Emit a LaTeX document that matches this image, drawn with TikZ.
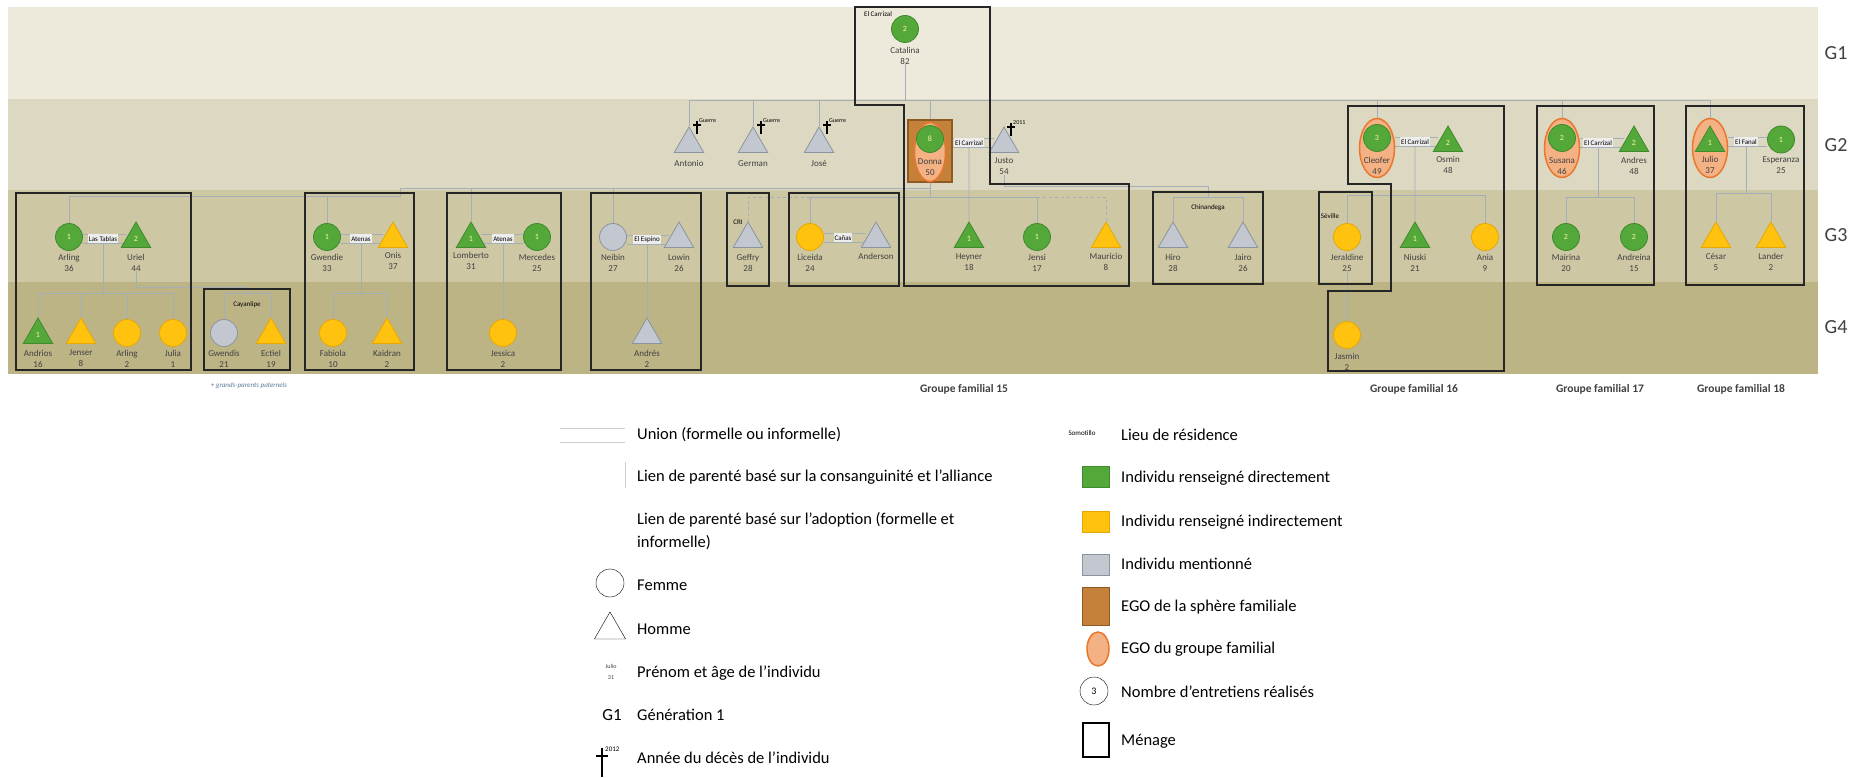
\documentclass[tikz,border=0pt]{standalone}
\usepackage{fontspec}
\setmainfont{Carlito}
\usetikzlibrary{shapes.geometric,backgrounds}

\definecolor{bandA}{HTML}{EEEADB}
\definecolor{bandB}{HTML}{DDD8C1}
\definecolor{bandC}{HTML}{CEC7A4}
\definecolor{bandD}{HTML}{BDB486}
\definecolor{vert}{HTML}{54A83A}
\definecolor{vertf}{HTML}{3E8A2C}
\definecolor{jaune}{HTML}{FFC20E}
\definecolor{jaunef}{HTML}{E6A800}
\definecolor{gris}{HTML}{C3C8D0}
\definecolor{grisf}{HTML}{8A949E}
\definecolor{saumon}{HTML}{F4B183}
\definecolor{orangef}{HTML}{E9772E}
\definecolor{brun}{HTML}{C58139}
\definecolor{brunf}{HTML}{8E5A22}
\definecolor{lien}{HTML}{A3AEB6}
\definecolor{cadre}{HTML}{262626}
\definecolor{texte}{HTML}{404040}
\definecolor{etiq}{HTML}{EDEDED}
\definecolor{chiffre}{HTML}{FFF2A8}
\definecolor{note}{HTML}{5B7A9A}

% croix du deces
\newcommand{\croix}[3]{%
  \draw[line width=1.5pt] (#1,#2-6) -- (#1,#2+7);
  \draw[line width=1.5pt] (#1-4,#2-2) -- (#1+4,#2-2);
  \node[anchor=south west, font=\fontsize{6}{6}\selectfont, inner sep=0pt] at (#1+2,#2-4) {#3};}

\begin{document}
\begin{tikzpicture}[x=1pt, y=-1pt, every node/.style={font=\fontsize{9}{11}\selectfont},
  fem/.style={circle, line width=0.8pt, minimum size=27pt, inner sep=0pt, font=\fontsize{8}{8}\selectfont, text=chiffre},
  hom/.style={regular polygon, regular polygon sides=3, line width=0.8pt, minimum size=34pt, inner sep=0pt, font=\fontsize{8}{8}\selectfont, text=chiffre},
  dir/.style={fill=vert, draw=vertf},
  ind/.style={fill=jaune, draw=jaunef},
  men/.style={fill=gris, draw=grisf},
  nom/.style={align=center, text=texte, inner sep=0pt},
  egoG/.style={ellipse, fill=saumon, draw=orangef, line width=1.5pt, minimum width=35pt, minimum height=59pt, inner sep=0pt},
  egoS/.style={rectangle, fill=brun, draw=brunf, line width=1.5pt, minimum width=44pt, minimum height=62pt},
  menage/.style={draw=cadre, line width=1.3pt},
  kin/.style={draw=lien, line width=0.8pt},
  adopt/.style={kin, dashed},
  union/.style={draw=lien, line width=0.8pt},
  lieu/.style={fill=etiq, font=\fontsize{7}{7}\selectfont, inner sep=1pt, minimum height=9pt},
  res/.style={font=\fontsize{7}{7}\selectfont, inner sep=0pt},
  gen/.style={font=\fontsize{20}{20}\selectfont, text=texte},
  groupe/.style={font=\bfseries\fontsize{11.5}{12}\selectfont, text=texte},
  leg/.style={anchor=west, font=\fontsize{16.5}{23}\selectfont, align=left, inner sep=0pt}]

\useasboundingbox (0,0) rectangle (1861,778);
\begin{pgfonlayer}{background}
\fill[white] (0,0) rectangle (1861,778);
% generations
\fill[bandA] (8,7) rectangle (1818,99);
\fill[bandB] (8,99) rectangle (1818,190);
\fill[bandC] (8,190) rectangle (1818,282);
\fill[bandD] (8,282) rectangle (1818,374);
\end{pgfonlayer}

\node[gen] (g1) at (1836,53) {G1};
\node[gen] (g2) at (1836,145) {G2};
\node[gen] (g3) at (1836,235) {G3};
\node[gen] (g4) at (1836,327) {G4};

% G1
\node[fem,dir] (catalina) at (905,29) {2};
\node[nom] (catalinaL) at (905,55.5) {Catalina\\82};

% G2
\node[hom,men] (antonio) at (689,144) {};
\node[nom] (antonioL) at (689,163) {Antonio};
\node[hom,men] (german) at (753,144) {};
\node[nom] (germanL) at (753,164) {German};
\node[hom,men] (jose) at (819,144) {};
\node[nom] (joseL) at (819,163) {José};
\node[egoS] (donnaBox) at (930,151) {};
\node[egoG, minimum width=31pt] (donna) at (930,152) {};
\node[fem,dir] (donnaC) at (930,139) {8};
\node[nom] (donnaL) at (930,167) {Donna\\50};
\node[hom,men] (justo) at (1004,144) {};
\node[nom] (justoL) at (1004,166.5) {Justo\\54};
\node[egoG] (cleofer) at (1377,148) {};
\node[fem,dir] (cleoferC) at (1377,138) {3};
\node[nom] (cleoferL) at (1377,166) {Cleofer\\49};
\node[hom,dir] (osmin) at (1448,143) {2};
\node[nom] (osminL) at (1448,165) {Osmin\\48};
\node[egoG] (susana) at (1562,148) {};
\node[fem,dir] (susanaC) at (1562,138) {2};
\node[nom] (susanaL) at (1562,166) {Susana\\46};
\node[hom,dir] (andres) at (1634,143) {2};
\node[nom] (andresL) at (1634,166) {Andres\\48};
\node[egoG] (julio) at (1710,148) {};
\node[hom,dir] (julioT) at (1710,143) {1};
\node[nom] (julioL) at (1710,165) {Julio\\37};
\node[fem,dir] (esperanza) at (1781,139.5) {1};
\node[nom] (esperanzaL) at (1781,165.5) {Esperanza\\25};

% G3
\node[fem,dir] (arlingA) at (69,237) {1};
\node[nom] (arlingAL) at (69,262.5) {Arling\\36};
\node[hom,dir] (uriel) at (136,239) {2};
\node[nom] (urielL) at (136,262.5) {Uriel\\44};
\node[fem,dir] (gwendie) at (327,237) {1};
\node[nom] (gwendieL) at (327,262.5) {Gwendie\\33};
\node[hom,ind] (onis) at (393,239) {};
\node[nom] (onisL) at (393,260.5) {Onis\\37};
\node[hom,dir] (lomberto) at (471,239) {1};
\node[nom] (lombertoL) at (471,260.5) {Lomberto\\31};
\node[fem,dir] (mercedes) at (537,237) {1};
\node[nom] (mercedesL) at (537,262.5) {Mercedes\\25};
\node[fem,men] (neibin) at (613,237) {};
\node[nom] (neibinL) at (613,262.5) {Neibin\\27};
\node[hom,men] (lowin) at (679,239) {};
\node[nom] (lowinL) at (679,262.5) {Lowin\\26};
\node[hom,men] (geffry) at (748,239) {};
\node[nom] (geffryL) at (748,262.5) {Geffry\\28};
\node[fem,ind] (liceida) at (810,237) {};
\node[nom] (liceidaL) at (810,262.5) {Liceida\\24};
\node[hom,men] (anderson) at (876,239) {};
\node[nom] (andersonL) at (876,256) {Anderson};
\node[hom,dir] (heyner) at (969,239) {1};
\node[nom] (heynerL) at (969,262.5) {Heyner\\18};
\node[fem,dir] (jensi) at (1037,237) {1};
\node[nom] (jensiL) at (1037,262.5) {Jensi\\17};
\node[hom,ind] (mauricio) at (1106,239) {};
\node[nom] (mauricioL) at (1106,261.5) {Mauricio\\8};
\node[hom,men] (hiro) at (1173,239) {};
\node[nom] (hiroL) at (1173,262.5) {Hiro\\28};
\node[hom,men] (jairo) at (1243,239) {};
\node[nom] (jairoL) at (1243,262.5) {Jairo\\26};
\node[fem,ind] (jeraldine) at (1347,237) {};
\node[nom] (jeraldineL) at (1347,262.5) {Jeraldine\\25};
\node[hom,dir] (niuski) at (1415,239) {1};
\node[nom] (niuskiL) at (1415,262.5) {Niuski\\21};
\node[fem,ind] (ania) at (1485,237) {};
\node[nom] (aniaL) at (1485,262.5) {Ania\\9};
\node[fem,dir] (mairina) at (1566,237) {2};
\node[nom] (mairinaL) at (1566,262.5) {Mairina\\20};
\node[fem,dir] (andreina) at (1634,237) {2};
\node[nom] (andreinaL) at (1634,262.5) {Andreina\\15};
\node[hom,ind] (cesar) at (1716,239) {};
\node[nom] (cesarL) at (1716,261.5) {César\\5};
\node[hom,ind] (lander) at (1771,239) {};
\node[nom] (landerL) at (1771,261.5) {Lander\\2};

% G4
\node[hom,dir] (andrios) at (38,335) {1};
\node[nom] (andriosL) at (38,358.5) {Andrios\\16};
\node[hom,ind] (jenser) at (81,335) {};
\node[nom] (jenserL) at (81,358.5) {Jenser\\8};
\node[fem,ind] (arlingB) at (127,333) {};
\node[nom] (arlingBL) at (127,358.5) {Arling\\2};
\node[fem,ind] (julia) at (173,333) {};
\node[nom] (juliaL) at (173,358.5) {Julia\\1};
\node[fem,men] (gwendis) at (224,333) {};
\node[nom] (gwendisL) at (224,358.5) {Gwendis\\21};
\node[hom,ind] (ectiel) at (271,335) {};
\node[nom] (ectielL) at (271,358.5) {Ectiel\\19};
\node[fem,ind] (fabiola) at (333,333) {};
\node[nom] (fabiolaL) at (333,358.5) {Fabiola\\10};
\node[hom,ind] (kaidran) at (387,335) {};
\node[nom] (kaidranL) at (387,358.5) {Kaidran\\2};
\node[fem,ind] (jessica) at (503,333) {};
\node[nom] (jessicaL) at (503,358.5) {Jessica\\2};
\node[hom,men] (andres2) at (647,335) {};
\node[nom] (andres2L) at (647,358.5) {Andrés\\2};
\node[fem,ind] (jasmin) at (1347,335) {};
\node[nom] (jasminL) at (1347,361.5) {Jasmin\\2};

% unions
\node[lieu] (uTablas) at (103,239) {Las Tablas};
\node[lieu] (uAtenasA) at (361,239) {Atenas};
\node[lieu] (uAtenasB) at (503,239) {Atenas};
\node[lieu] (uEspino) at (647,240) {El Espino};
\node[lieu] (uCanas) at (843,238) {Cañas};
\node[lieu] (uDonna) at (969,143) {El Carrizal};
\node[lieu] (uCleofer) at (1415,142) {El Carrizal};
\node[lieu] (uSusana) at (1598,143) {El Carrizal};
\node[lieu] (uJulio) at (1746,142) {El Fanal};

% lieux de residence
\node[res] (lieuGF15) at (878,14) {El Carrizal};
\node[res] (lieuCri) at (738,222) {CRI};
\node[res] (lieuChin) at (1208,208) {Chinandega};
\node[res] (lieuSev) at (1330,216) {Séville};
\node[res] (lieuCay) at (247,305) {Cayanlipe};

\croix{697}{127}{Guerre}
\croix{761}{127}{Guerre}
\croix{827}{127}{Guerre}
\croix{1011}{129}{2011}

\begin{pgfonlayer}{background}
% liens d'union
\foreach \a/\u/\b in {arlingA/uTablas/uriel, gwendie/uAtenasA/onis, lomberto/uAtenasB/mercedes, neibin/uEspino/lowin, liceida/uCanas/anderson, donnaBox/uDonna/justo, cleofer/uCleofer/osmin, susana/uSusana/andres, julio/uJulio/esperanza}{
  \draw[union] ([yshift=4.5pt]\a.east |- \u) -- ([yshift=4.5pt]\b.west |- \u);
  \draw[union] ([yshift=-4.5pt]\a.east |- \u) -- ([yshift=-4.5pt]\b.west |- \u);}

% liens de parente
\coordinate (top) at (905,100);
\draw[kin] (catalinaL.south) -- (top);
\foreach \e in {antonio,german,jose,donnaBox,cleofer,susana,julio}
  \draw[kin] (top) -| (\e.north);

\coordinate (dbar) at (930,188);
\coordinate (dstep) at (400,196);
\draw[kin] (donnaBox.south) -- (dbar) -| (neibin.north);
\draw[kin] (dbar) -| (lomberto.north);
\draw[kin] (dbar) -| (dstep) -| (arlingA.north);
\draw[kin] (dstep) -| (gwendie.north);

\coordinate (abar) at (930,197);
\draw[kin] (dbar) -- (abar);
\draw[kin] (abar) -| (liceida.north);
\draw[kin] (abar) -| (jensi.north);
\draw[adopt] (liceida |- abar) -| (geffry.north);
\draw[adopt] (jensi |- abar) -| (mauricio.north);
\draw[kin] (uDonna) -- (heyner.north);

\coordinate (jbar) at (1208,186);
\coordinate (hbar) at (1208,197);
\draw[kin] (justoL.south) |- (jbar) -- (hbar);
\draw[kin] (hbar) -| (hiro.north);
\draw[kin] (hbar) -| (jairo.north);

\coordinate (tbar) at (103,293);
\draw[kin] (uTablas) -- (tbar);
\foreach \e in {andrios,jenser,arlingB,julia}
  \draw[kin] (tbar) -| (\e.north);

\coordinate (cbar) at (247,293);
\draw[kin] (urielL.south) |- (247,287) -- (cbar);
\draw[kin] (cbar) -| (gwendis.north);
\draw[kin] (cbar) -| (ectiel.north);

\coordinate (atbar) at (361,293);
\draw[kin] (uAtenasA) -- (atbar);
\draw[kin] (atbar) -| (fabiola.north);
\draw[kin] (atbar) -| (kaidran.north);
\draw[kin] (uAtenasB) -- (jessica.north);
\draw[kin] (uEspino) -- (andres2.north);

\coordinate (nbar) at (1415,195);
\draw[kin] (uCleofer) -- (niuski.north);
\draw[kin] (nbar) -| (jeraldine.north);
\draw[kin] (nbar) -| (ania.north);
\draw[kin] (jeraldineL.south) -- (jasmin.north);

\coordinate (sbar) at (1598,197);
\draw[kin] (uSusana) -- (sbar);
\draw[kin] (sbar) -| (mairina.north);
\draw[kin] (sbar) -| (andreina.north);

\coordinate (jubar) at (1746,193);
\draw[kin] (uJulio) -- (jubar);
\draw[kin] (jubar) -| (cesar.north);
\draw[kin] (jubar) -| (lander.north);
\end{pgfonlayer}

% menages
\draw[menage] (16,193) rectangle (191,370);
\draw[menage] (204,289) rectangle (290,370);
\draw[menage] (305,193) rectangle (414,370);
\draw[menage] (447,193) rectangle (561,370);
\draw[menage] (591,193) rectangle (701,370);
\draw[menage] (727,193) rectangle (769,286);
\draw[menage] (789,193) rectangle (899,286);
\draw[menage] (855,7) -- (990,7) -- (990,184) -- (1129,184) -- (1129,286) -- (904,286) -- (904,105) -- (855,105) -- cycle;
\draw[menage] (1153,192) rectangle (1263,284);
\draw[menage] (1319,192) rectangle (1372,284);
\draw[menage] (1348,106) -- (1504,106) -- (1504,371) -- (1328,371) -- (1328,291) -- (1391,291) -- (1391,184) -- (1348,184) -- cycle;
\draw[menage] (1537,106) rectangle (1654,285);
\draw[menage] (1686,106) rectangle (1804,285);

\node[groupe] (gf15) at (964,389) {Groupe familial 15};
\node[groupe] (gf16) at (1414,389) {Groupe familial 16};
\node[groupe] (gf17) at (1600,389) {Groupe familial 17};
\node[groupe] (gf18) at (1741,389) {Groupe familial 18};
\node[font=\itshape\fontsize{7}{7}\selectfont, text=note] (gpp) at (249,386) {+ grands-parents paternels};

% legende
\draw[union, draw=lien!60] (560,428) -- (625,428);
\draw[union, draw=lien!60] (560,442) -- (625,442);
\draw[kin, draw=lien!60] (625,462) -- (625,488);
\node[circle, draw, minimum size=28pt, inner sep=0pt] (legF) at (610,583) {};
\node[regular polygon, regular polygon sides=3, draw, minimum size=36pt, inner sep=0pt] (legH) at (610,630) {};
\node[font=\fontsize{6}{11}\selectfont, align=center, text=texte, inner sep=0pt] (legN) at (611,672) {Julio\\31};
\node[font=\fontsize{17}{17}\selectfont, inner sep=0pt] (legG) at (612,715) {G1};
\draw[line width=1.6pt] (602,748) -- (602,777);
\draw[line width=1.6pt] (596,756) -- (608,756);
\node[anchor=west, font=\fontsize{7}{7}\selectfont, inner sep=0pt] (legD) at (605,749) {2012};

\node[leg] (t1) at (637,435) {Union (formelle ou informelle)};
\node[leg] (t2) at (637,477) {Lien de parenté basé sur la consanguinité et l’alliance};
\node[leg] (t3) at (637,531.5) {Lien de parenté basé sur l’adoption (formelle et\\informelle)};
\node[leg] (t4) at (637,585) {Femme};
\node[leg] (t5) at (637,629) {Homme};
\node[leg] (t6) at (637,673) {Prénom et âge de l’individu};
\node[leg] (t7) at (637,715) {Génération 1};
\node[leg] (t8) at (637,758) {Année du décès de l’individu};

\node[font=\fontsize{7}{7}\selectfont, inner sep=0pt] (legL) at (1082,433) {Somotillo};
\node[draw=vertf, fill=vert, minimum width=27pt, minimum height=21pt, inner sep=0pt] (legV) at (1096,477) {};
\node[draw=jaunef, fill=jaune, minimum width=27pt, minimum height=21pt, inner sep=0pt] (legJ) at (1096,522) {};
\node[draw=grisf, fill=gris, minimum width=27pt, minimum height=21pt, inner sep=0pt] (legM) at (1096,565) {};
\node[draw=brunf, fill=brun, minimum width=27pt, minimum height=38pt, inner sep=0pt] (legS) at (1096,606) {};
\node[ellipse, draw=orangef, fill=saumon, line width=1.5pt, minimum width=22pt, minimum height=34pt, inner sep=0pt] (legE) at (1098,649) {};
\node[circle, draw, minimum size=28pt, inner sep=0pt, font=\fontsize{10}{10}\selectfont] (legC) at (1094,691) {3};
\node[draw, line width=1.5pt, minimum width=26pt, minimum height=34pt, inner sep=0pt] (legR) at (1096,740) {};

\node[leg] (r1) at (1121,435) {Lieu de résidence};
\node[leg] (r2) at (1121,478) {Individu renseigné directement};
\node[leg] (r3) at (1121,522) {Individu renseigné indirectement};
\node[leg] (r4) at (1121,564) {Individu mentionné};
\node[leg] (r5) at (1121,607) {EGO de la sphère familiale};
\node[leg] (r6) at (1121,649) {EGO du groupe familial};
\node[leg] (r7) at (1121,692) {Nombre d’entretiens réalisés};
\node[leg] (r8) at (1121,741) {Ménage};
\end{tikzpicture}
\end{document}
